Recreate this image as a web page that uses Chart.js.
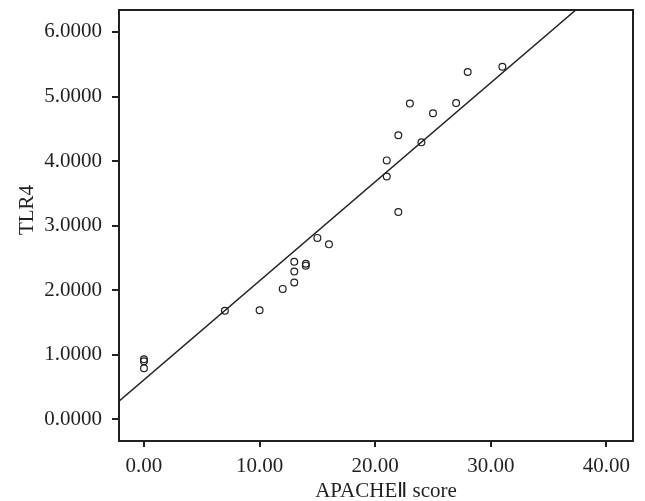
<!DOCTYPE html>
<html>
<head>
<meta charset="utf-8">
<script src="https://cdn.jsdelivr.net/npm/chart.js@4"></script>
<style>
  html, body { margin: 0; padding: 0; background: #fff; }
  #wrap { width: 645px; height: 501px; }
</style>
</head>
<body>
<div id="wrap"><canvas id="myChart" width="645" height="501"></canvas></div>
<script>
// APACHE II score vs TLR4
const apacheScore = [0, 0, 0, 7, 10, 12, 13, 13, 13, 14, 14, 15, 16, 21, 21, 22, 22, 23, 24, 25, 27, 28, 31];
const tlr4 = [0.93, 0.90, 0.79, 1.68, 1.69, 2.02, 2.12, 2.29, 2.44, 2.41, 2.38, 2.81, 2.71, 4.01, 3.76, 4.40, 3.21, 4.89, 4.29, 4.74, 4.90, 5.38, 5.46];

// fit line end points (left edge of plot, where it leaves the top)
const fitX = [-2.16, 37.35];
const fitY = [0.28, 6.34];

const xTicks = [0, 10, 20, 30, 40];
const yTicks = [0, 1, 2, 3, 4, 5, 6];

const ink = '#231f20';
const font = "'Liberation Serif', 'Times New Roman', serif";

// frame on top/right + axis titles
const framePlugin = {
  id: 'frame',
  afterDraw(chart) {
    const { ctx, chartArea: a } = chart;
    ctx.save();
    ctx.strokeStyle = ink;
    ctx.lineWidth = 2;
    ctx.strokeRect(a.left, a.top, a.right - a.left, a.bottom - a.top);
    ctx.fillStyle = ink;
    ctx.font = "21px " + font;
    ctx.textAlign = 'center';
    ctx.textBaseline = 'alphabetic';
    ctx.fillText('APACHEⅡ score', 386, 497);
    ctx.translate(33, 210);
    ctx.rotate(-Math.PI / 2);
    ctx.fillText('TLR4', 0, 0);
    ctx.restore();
  }
};

const ctx = document.getElementById('myChart').getContext('2d');
new Chart(ctx, {
  type: 'scatter',
  data: {
    datasets: [{
      data: apacheScore.map((x, i) => ({ x: x, y: tlr4[i] })),
      pointStyle: 'circle',
      pointRadius: 3.4,
      borderColor: ink,
      backgroundColor: 'rgba(0,0,0,0)',
      borderWidth: 1.2
    }, {
      type: 'line',
      data: fitX.map((x, i) => ({ x: x, y: fitY[i] })),
      borderColor: ink,
      borderWidth: 1.5,
      pointRadius: 0,
      fill: false
    }]
  },
  options: {
    responsive: false,
    animation: false,
    devicePixelRatio: 1,
    layout: { padding: { top: 10, right: 12, left: 0, bottom: 0 } },
    plugins: { legend: { display: false }, tooltip: { enabled: false } },
    scales: {
      x: {
        type: 'linear',
        min: -2.16,
        max: 42.3,
        afterBuildTicks: axis => { axis.ticks = xTicks.map(v => ({ value: v })); },
        afterFit: axis => { axis.height = 60; axis.paddingLeft = 0; axis.paddingRight = 0; },
        grid: { drawOnChartArea: false, drawTicks: true, tickLength: 6, color: ink, lineWidth: 2 },
        border: { display: true, color: ink, width: 2 },
        ticks: {
          color: ink,
          padding: 7,
          maxRotation: 0,
          font: { family: font, size: 21 },
          callback: v => v.toFixed(2)
        }
      },
      y: {
        type: 'linear',
        min: -0.336,
        max: 6.34,
        afterBuildTicks: axis => { axis.ticks = yTicks.map(v => ({ value: v })); },
        afterFit: axis => { axis.width = 119; axis.paddingTop = 0; axis.paddingBottom = 0; },
        grid: { drawOnChartArea: false, drawTicks: true, tickLength: 7, color: ink, lineWidth: 2 },
        border: { display: true, color: ink, width: 2 },
        ticks: {
          color: ink,
          padding: 10,
          font: { family: font, size: 21 },
          callback: v => v.toFixed(4)
        }
      }
    }
  },
  plugins: [framePlugin]
});
</script>
</body>
</html>
